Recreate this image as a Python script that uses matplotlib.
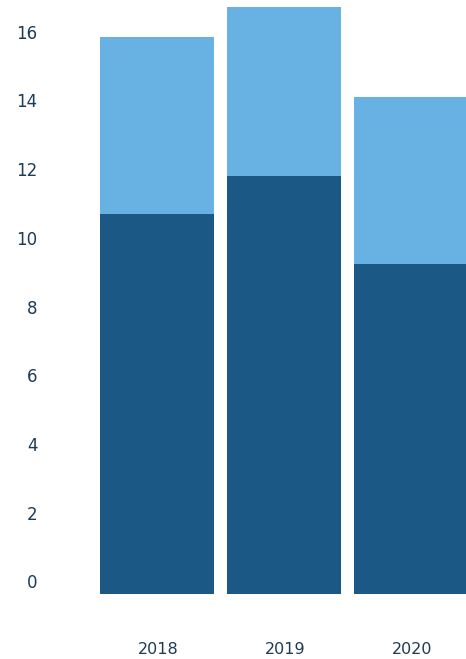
import matplotlib
matplotlib.use("Agg")
import matplotlib.pyplot as plt
import matplotlib.transforms as mtransforms

years = ['2018', '2019', '2020']
lower = [11.05, 12.15, 9.6]
upper = [5.15, 4.93, 4.86]
yticks = [0, 2, 4, 6, 8, 10, 12, 14, 16]

dark = '#1b5886'
light = '#68b1e3'
textc = '#1d3b54'

W, H = 466, 659
fig = plt.figure(figsize=(W / 100, H / 100), dpi=100)

# axes run from the bar baseline up to the top edge of the figure
base_px = 594
ax = fig.add_axes([0, (H - base_px) / H, 1, base_px / H])
unit = 34.375
ax.set_ylim(0, base_px / unit)
ax.set_xlim(-157 / 127, 2 + 55 / 127)

x = list(range(len(years)))
ax.bar(x, lower, width=0.9, color=dark, zorder=2)
ax.bar(x, upper, bottom=lower, width=0.9, color=light, zorder=2)

ax.set_xticks([])
ax.set_yticks([])
for s in ax.spines.values():
    s.set_visible(False)

# y labels sit a little above their gridline positions
trans = mtransforms.blended_transform_factory(fig.dpi_scale_trans, ax.transData)
off = mtransforms.ScaledTranslation(0, 10.5 / 100, fig.dpi_scale_trans)
for t in yticks:
    ax.text(0.375, t, str(t), transform=trans + off, ha='right', va='center',
            fontsize=12, color=textc, clip_on=False)

for xi, yr in zip(x, years):
    ax.text(xi + 0.01, -1.6, yr, ha='center', va='center', fontsize=11.5,
            color=textc, clip_on=False)

fig.savefig('out.png', dpi=100)
